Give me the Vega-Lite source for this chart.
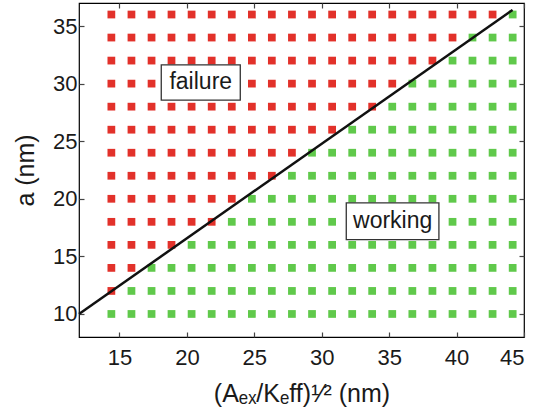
{
"$schema": "https://vega.github.io/schema/vega-lite/v6.json",
"width": 445, "height": 334,
"autosize": "none",
"padding": {"left": 79, "top": 3, "right": 20, "bottom": 81},
"config": {"view": {"stroke": "black", "strokeWidth": 1.2}, "font": "Liberation Sans",
  "axis": {"grid": false, "domain": false, "offset": -5, "tickSize": 5, "tickColor": "#444", "tickWidth": 1.2, "labelFont": "Liberation Sans", "labelFontSize": 22, "labelColor": "#1a1a1a", "titleFont": "Liberation Sans", "titleFontSize": 25, "titleFontWeight": "normal", "titleColor": "#1a1a1a"}},
"datasets": {
"grid": [
{"x":14.4,"a":10,"s":"W"},{"x":15.89,"a":10,"s":"W"},{"x":17.38,"a":10,"s":"W"},{"x":18.86,"a":10,"s":"W"},{"x":20.35,"a":10,"s":"W"},{"x":21.84,"a":10,"s":"W"},{"x":23.33,"a":10,"s":"W"},{"x":24.82,"a":10,"s":"W"},{"x":26.3,"a":10,"s":"W"},{"x":27.79,"a":10,"s":"W"},{"x":29.28,"a":10,"s":"W"},{"x":30.77,"a":10,"s":"W"},{"x":32.26,"a":10,"s":"W"},{"x":33.74,"a":10,"s":"W"},{"x":35.23,"a":10,"s":"W"},{"x":36.72,"a":10,"s":"W"},{"x":38.21,"a":10,"s":"W"},{"x":39.7,"a":10,"s":"W"},{"x":41.18,"a":10,"s":"W"},{"x":42.67,"a":10,"s":"W"},{"x":44.16,"a":10,"s":"W"},
{"x":14.4,"a":12,"s":"F"},{"x":15.89,"a":12,"s":"W"},{"x":17.38,"a":12,"s":"W"},{"x":18.86,"a":12,"s":"W"},{"x":20.35,"a":12,"s":"W"},{"x":21.84,"a":12,"s":"W"},{"x":23.33,"a":12,"s":"W"},{"x":24.82,"a":12,"s":"W"},{"x":26.3,"a":12,"s":"W"},{"x":27.79,"a":12,"s":"W"},{"x":29.28,"a":12,"s":"W"},{"x":30.77,"a":12,"s":"W"},{"x":32.26,"a":12,"s":"W"},{"x":33.74,"a":12,"s":"W"},{"x":35.23,"a":12,"s":"W"},{"x":36.72,"a":12,"s":"W"},{"x":38.21,"a":12,"s":"W"},{"x":39.7,"a":12,"s":"W"},{"x":41.18,"a":12,"s":"W"},{"x":42.67,"a":12,"s":"W"},{"x":44.16,"a":12,"s":"W"},
{"x":14.4,"a":14,"s":"F"},{"x":15.89,"a":14,"s":"F"},{"x":17.38,"a":14,"s":"W"},{"x":18.86,"a":14,"s":"W"},{"x":20.35,"a":14,"s":"W"},{"x":21.84,"a":14,"s":"W"},{"x":23.33,"a":14,"s":"W"},{"x":24.82,"a":14,"s":"W"},{"x":26.3,"a":14,"s":"W"},{"x":27.79,"a":14,"s":"W"},{"x":29.28,"a":14,"s":"W"},{"x":30.77,"a":14,"s":"W"},{"x":32.26,"a":14,"s":"W"},{"x":33.74,"a":14,"s":"W"},{"x":35.23,"a":14,"s":"W"},{"x":36.72,"a":14,"s":"W"},{"x":38.21,"a":14,"s":"W"},{"x":39.7,"a":14,"s":"W"},{"x":41.18,"a":14,"s":"W"},{"x":42.67,"a":14,"s":"W"},{"x":44.16,"a":14,"s":"W"},
{"x":14.4,"a":16,"s":"F"},{"x":15.89,"a":16,"s":"F"},{"x":17.38,"a":16,"s":"F"},{"x":18.86,"a":16,"s":"F"},{"x":20.35,"a":16,"s":"W"},{"x":21.84,"a":16,"s":"W"},{"x":23.33,"a":16,"s":"W"},{"x":24.82,"a":16,"s":"W"},{"x":26.3,"a":16,"s":"W"},{"x":27.79,"a":16,"s":"W"},{"x":29.28,"a":16,"s":"W"},{"x":30.77,"a":16,"s":"W"},{"x":32.26,"a":16,"s":"W"},{"x":33.74,"a":16,"s":"W"},{"x":35.23,"a":16,"s":"W"},{"x":36.72,"a":16,"s":"W"},{"x":38.21,"a":16,"s":"W"},{"x":39.7,"a":16,"s":"W"},{"x":41.18,"a":16,"s":"W"},{"x":42.67,"a":16,"s":"W"},{"x":44.16,"a":16,"s":"W"},
{"x":14.4,"a":18,"s":"F"},{"x":15.89,"a":18,"s":"F"},{"x":17.38,"a":18,"s":"F"},{"x":18.86,"a":18,"s":"F"},{"x":20.35,"a":18,"s":"F"},{"x":21.84,"a":18,"s":"F"},{"x":23.33,"a":18,"s":"W"},{"x":24.82,"a":18,"s":"W"},{"x":26.3,"a":18,"s":"W"},{"x":27.79,"a":18,"s":"W"},{"x":29.28,"a":18,"s":"W"},{"x":30.77,"a":18,"s":"W"},{"x":32.26,"a":18,"s":"W"},{"x":33.74,"a":18,"s":"W"},{"x":35.23,"a":18,"s":"W"},{"x":36.72,"a":18,"s":"W"},{"x":38.21,"a":18,"s":"W"},{"x":39.7,"a":18,"s":"W"},{"x":41.18,"a":18,"s":"W"},{"x":42.67,"a":18,"s":"W"},{"x":44.16,"a":18,"s":"W"},
{"x":14.4,"a":20,"s":"F"},{"x":15.89,"a":20,"s":"F"},{"x":17.38,"a":20,"s":"F"},{"x":18.86,"a":20,"s":"F"},{"x":20.35,"a":20,"s":"F"},{"x":21.84,"a":20,"s":"F"},{"x":23.33,"a":20,"s":"F"},{"x":24.82,"a":20,"s":"W"},{"x":26.3,"a":20,"s":"W"},{"x":27.79,"a":20,"s":"W"},{"x":29.28,"a":20,"s":"W"},{"x":30.77,"a":20,"s":"W"},{"x":32.26,"a":20,"s":"W"},{"x":33.74,"a":20,"s":"W"},{"x":35.23,"a":20,"s":"W"},{"x":36.72,"a":20,"s":"W"},{"x":38.21,"a":20,"s":"W"},{"x":39.7,"a":20,"s":"W"},{"x":41.18,"a":20,"s":"W"},{"x":42.67,"a":20,"s":"W"},{"x":44.16,"a":20,"s":"W"},
{"x":14.4,"a":22,"s":"F"},{"x":15.89,"a":22,"s":"F"},{"x":17.38,"a":22,"s":"F"},{"x":18.86,"a":22,"s":"F"},{"x":20.35,"a":22,"s":"F"},{"x":21.84,"a":22,"s":"F"},{"x":23.33,"a":22,"s":"F"},{"x":24.82,"a":22,"s":"F"},{"x":26.3,"a":22,"s":"F"},{"x":27.79,"a":22,"s":"W"},{"x":29.28,"a":22,"s":"W"},{"x":30.77,"a":22,"s":"W"},{"x":32.26,"a":22,"s":"W"},{"x":33.74,"a":22,"s":"W"},{"x":35.23,"a":22,"s":"W"},{"x":36.72,"a":22,"s":"W"},{"x":38.21,"a":22,"s":"W"},{"x":39.7,"a":22,"s":"W"},{"x":41.18,"a":22,"s":"W"},{"x":42.67,"a":22,"s":"W"},{"x":44.16,"a":22,"s":"W"},
{"x":14.4,"a":24,"s":"F"},{"x":15.89,"a":24,"s":"F"},{"x":17.38,"a":24,"s":"F"},{"x":18.86,"a":24,"s":"F"},{"x":20.35,"a":24,"s":"F"},{"x":21.84,"a":24,"s":"F"},{"x":23.33,"a":24,"s":"F"},{"x":24.82,"a":24,"s":"F"},{"x":26.3,"a":24,"s":"F"},{"x":27.79,"a":24,"s":"F"},{"x":29.28,"a":24,"s":"W"},{"x":30.77,"a":24,"s":"W"},{"x":32.26,"a":24,"s":"W"},{"x":33.74,"a":24,"s":"W"},{"x":35.23,"a":24,"s":"W"},{"x":36.72,"a":24,"s":"W"},{"x":38.21,"a":24,"s":"W"},{"x":39.7,"a":24,"s":"W"},{"x":41.18,"a":24,"s":"W"},{"x":42.67,"a":24,"s":"W"},{"x":44.16,"a":24,"s":"W"},
{"x":14.4,"a":26,"s":"F"},{"x":15.89,"a":26,"s":"F"},{"x":17.38,"a":26,"s":"F"},{"x":18.86,"a":26,"s":"F"},{"x":20.35,"a":26,"s":"F"},{"x":21.84,"a":26,"s":"F"},{"x":23.33,"a":26,"s":"F"},{"x":24.82,"a":26,"s":"F"},{"x":26.3,"a":26,"s":"F"},{"x":27.79,"a":26,"s":"F"},{"x":29.28,"a":26,"s":"F"},{"x":30.77,"a":26,"s":"F"},{"x":32.26,"a":26,"s":"W"},{"x":33.74,"a":26,"s":"W"},{"x":35.23,"a":26,"s":"W"},{"x":36.72,"a":26,"s":"W"},{"x":38.21,"a":26,"s":"W"},{"x":39.7,"a":26,"s":"W"},{"x":41.18,"a":26,"s":"W"},{"x":42.67,"a":26,"s":"W"},{"x":44.16,"a":26,"s":"W"},
{"x":14.4,"a":28,"s":"F"},{"x":15.89,"a":28,"s":"F"},{"x":17.38,"a":28,"s":"F"},{"x":18.86,"a":28,"s":"F"},{"x":20.35,"a":28,"s":"F"},{"x":21.84,"a":28,"s":"F"},{"x":23.33,"a":28,"s":"F"},{"x":24.82,"a":28,"s":"F"},{"x":26.3,"a":28,"s":"F"},{"x":27.79,"a":28,"s":"F"},{"x":29.28,"a":28,"s":"F"},{"x":30.77,"a":28,"s":"F"},{"x":32.26,"a":28,"s":"F"},{"x":33.74,"a":28,"s":"F"},{"x":35.23,"a":28,"s":"W"},{"x":36.72,"a":28,"s":"W"},{"x":38.21,"a":28,"s":"W"},{"x":39.7,"a":28,"s":"W"},{"x":41.18,"a":28,"s":"W"},{"x":42.67,"a":28,"s":"W"},{"x":44.16,"a":28,"s":"W"},
{"x":14.4,"a":30,"s":"F"},{"x":15.89,"a":30,"s":"F"},{"x":17.38,"a":30,"s":"F"},{"x":18.86,"a":30,"s":"F"},{"x":20.35,"a":30,"s":"F"},{"x":21.84,"a":30,"s":"F"},{"x":23.33,"a":30,"s":"F"},{"x":24.82,"a":30,"s":"F"},{"x":26.3,"a":30,"s":"F"},{"x":27.79,"a":30,"s":"F"},{"x":29.28,"a":30,"s":"F"},{"x":30.77,"a":30,"s":"F"},{"x":32.26,"a":30,"s":"F"},{"x":33.74,"a":30,"s":"F"},{"x":35.23,"a":30,"s":"F"},{"x":36.72,"a":30,"s":"W"},{"x":38.21,"a":30,"s":"W"},{"x":39.7,"a":30,"s":"W"},{"x":41.18,"a":30,"s":"W"},{"x":42.67,"a":30,"s":"W"},{"x":44.16,"a":30,"s":"W"},
{"x":14.4,"a":32,"s":"F"},{"x":15.89,"a":32,"s":"F"},{"x":17.38,"a":32,"s":"F"},{"x":18.86,"a":32,"s":"F"},{"x":20.35,"a":32,"s":"F"},{"x":21.84,"a":32,"s":"F"},{"x":23.33,"a":32,"s":"F"},{"x":24.82,"a":32,"s":"F"},{"x":26.3,"a":32,"s":"F"},{"x":27.79,"a":32,"s":"F"},{"x":29.28,"a":32,"s":"F"},{"x":30.77,"a":32,"s":"F"},{"x":32.26,"a":32,"s":"F"},{"x":33.74,"a":32,"s":"F"},{"x":35.23,"a":32,"s":"F"},{"x":36.72,"a":32,"s":"F"},{"x":38.21,"a":32,"s":"F"},{"x":39.7,"a":32,"s":"W"},{"x":41.18,"a":32,"s":"W"},{"x":42.67,"a":32,"s":"W"},{"x":44.16,"a":32,"s":"W"},
{"x":14.4,"a":34,"s":"F"},{"x":15.89,"a":34,"s":"F"},{"x":17.38,"a":34,"s":"F"},{"x":18.86,"a":34,"s":"F"},{"x":20.35,"a":34,"s":"F"},{"x":21.84,"a":34,"s":"F"},{"x":23.33,"a":34,"s":"F"},{"x":24.82,"a":34,"s":"F"},{"x":26.3,"a":34,"s":"F"},{"x":27.79,"a":34,"s":"F"},{"x":29.28,"a":34,"s":"F"},{"x":30.77,"a":34,"s":"F"},{"x":32.26,"a":34,"s":"F"},{"x":33.74,"a":34,"s":"F"},{"x":35.23,"a":34,"s":"F"},{"x":36.72,"a":34,"s":"F"},{"x":38.21,"a":34,"s":"F"},{"x":39.7,"a":34,"s":"F"},{"x":41.18,"a":34,"s":"W"},{"x":42.67,"a":34,"s":"W"},{"x":44.16,"a":34,"s":"W"},
{"x":14.4,"a":36,"s":"F"},{"x":15.89,"a":36,"s":"F"},{"x":17.38,"a":36,"s":"F"},{"x":18.86,"a":36,"s":"F"},{"x":20.35,"a":36,"s":"F"},{"x":21.84,"a":36,"s":"F"},{"x":23.33,"a":36,"s":"F"},{"x":24.82,"a":36,"s":"F"},{"x":26.3,"a":36,"s":"F"},{"x":27.79,"a":36,"s":"F"},{"x":29.28,"a":36,"s":"F"},{"x":30.77,"a":36,"s":"F"},{"x":32.26,"a":36,"s":"F"},{"x":33.74,"a":36,"s":"F"},{"x":35.23,"a":36,"s":"F"},{"x":36.72,"a":36,"s":"F"},{"x":38.21,"a":36,"s":"F"},{"x":39.7,"a":36,"s":"F"},{"x":41.18,"a":36,"s":"F"},{"x":42.67,"a":36,"s":"F"},{"x":44.16,"a":36,"s":"W"}
],
"boundary": [{"x": 12, "a": 10}, {"x": 44.15, "a": 36.4}],
"notes": [
{"label": "failure", "cx": 21.03, "cy": 30.1, "x1": 18.1, "x2": 23.96, "y1": 28.57, "y2": 31.62},
{"label": "working", "cx": 35.26, "cy": 18.05, "x1": 31.82, "x2": 38.69, "y1": 16.45, "y2": 19.65}
]
},
"layer": [
{"data": {"name": "grid"},
 "mark": {"type": "square", "size": 60, "filled": true, "opacity": 1},
 "encoding": {
  "x": {"field": "x", "type": "quantitative", "scale": {"domain": [12, 45], "nice": false, "zero": false},
        "axis": {"orient": "bottom", "values": [15, 20, 25, 30, 35, 40, 45], "labelPadding": 10, "title": "(Aₑₓ/Kₑff)¹⁄²  (nm)", "titlePadding": 13}},
  "y": {"field": "a", "type": "quantitative", "scale": {"domain": [8, 37], "nice": false, "zero": false},
        "axis": {"orient": "left", "values": [10, 15, 20, 25, 30, 35], "labelPadding": 2, "title": "a  (nm)", "titlePadding": 14}},
  "color": {"field": "s", "type": "nominal", "scale": {"domain": ["F", "W"], "range": ["#e2312a", "#60c94b"]}, "legend": null}
 }},
{"data": {"name": "boundary"},
 "mark": {"type": "line", "color": "#111", "strokeWidth": 2.5},
 "encoding": {
  "x": {"field": "x", "type": "quantitative", "scale": {"domain": [12, 45], "nice": false, "zero": false},
        "axis": {"orient": "top", "values": [15, 20, 25, 30, 35, 40, 45], "labels": false, "title": null}},
  "y": {"field": "a", "type": "quantitative", "scale": {"domain": [8, 37], "nice": false, "zero": false},
        "axis": {"orient": "right", "values": [10, 15, 20, 25, 30, 35], "labels": false, "title": null}}
 }},
{"data": {"name": "notes"},
 "mark": {"type": "rect", "fill": "white", "stroke": "#333", "strokeWidth": 1.3},
 "encoding": {
  "x": {"field": "x1", "type": "quantitative", "scale": {"domain": [12, 45], "nice": false, "zero": false}, "axis": null},
  "x2": {"field": "x2"},
  "y": {"field": "y1", "type": "quantitative", "scale": {"domain": [8, 37], "nice": false, "zero": false}, "axis": null},
  "y2": {"field": "y2"}
 }},
{"data": {"name": "notes"},
 "mark": {"type": "text", "fontSize": 23, "font": "Liberation Sans", "color": "#1a1a1a", "align": "center", "baseline": "middle"},
 "encoding": {
  "x": {"field": "cx", "type": "quantitative", "scale": {"domain": [12, 45], "nice": false, "zero": false}, "axis": null},
  "y": {"field": "cy", "type": "quantitative", "scale": {"domain": [8, 37], "nice": false, "zero": false}, "axis": null},
  "text": {"field": "label"}
 }}
],
"resolve": {"axis": {"x": "independent", "y": "independent"}}
}
